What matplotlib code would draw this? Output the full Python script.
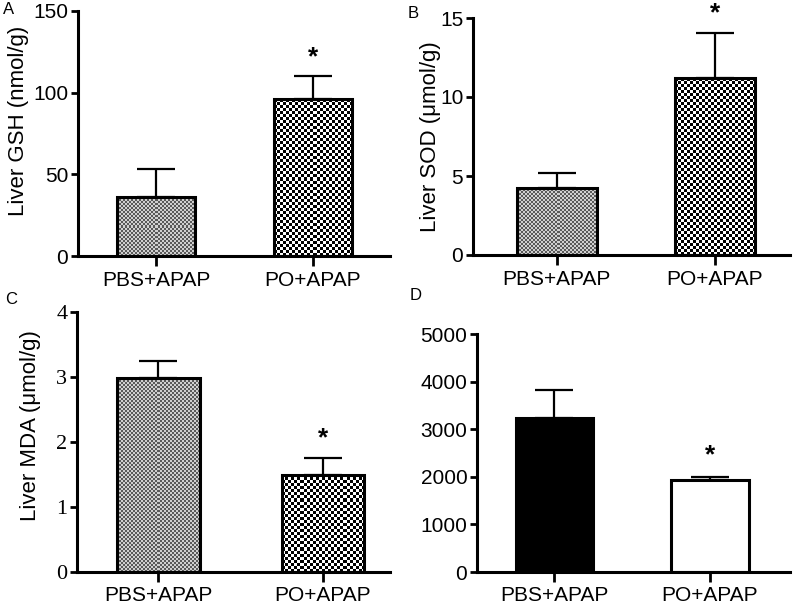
import numpy as np
import matplotlib
matplotlib.use("Agg")
import matplotlib.pyplot as plt
from matplotlib.colors import ListedColormap

groups = ["PBS+APAP", "PO+APAP"]

gsh_mean = [36, 96]
gsh_err = [17, 14]
sod_mean = [4.25, 11.2]
sod_err = [0.95, 2.85]
mda_mean = [2.98, 1.50]
mda_err = [0.27, 0.26]
d_mean = [3235, 1935]
d_err = [590, 60]

W, H = 800, 607
fig = plt.figure(figsize=(W / 100, H / 100), dpi=100)
sans = "Liberation Sans"
serif = "Liberation Serif"


def add_ax(left, right, top, bottom):
    return fig.add_axes([left / W, (H - bottom) / H, (right - left) / W, (bottom - top) / H])


def checker(ax, x, w, h, cell, c1, c2):
    p0 = ax.transData.transform((x - w / 2, 0))
    p1 = ax.transData.transform((x + w / 2, h))
    nx = max(1, int(round(abs(p1[0] - p0[0]) / cell)))
    ny = max(1, int(round(abs(p1[1] - p0[1]) / cell)))
    ii, jj = np.meshgrid(np.arange(nx), np.arange(ny))
    arr = (ii + jj) % 2
    ax.imshow(arr, cmap=ListedColormap([c1, c2]), extent=(x - w / 2, x + w / 2, 0, h),
              aspect="auto", interpolation="nearest", zorder=1)


def panel(ax, means, errs, xlim, ylim, yticks, width, ylabel, label_xy, tickfont, fills,
          star_off=14, xpad=3):
    ax.set_xlim(*xlim)
    ax.set_ylim(*ylim)
    x = np.arange(len(means))
    for i, (m, f) in enumerate(zip(means, fills)):
        if f == "fine":
            checker(ax, x[i], width, m, 2.0, "#5a5a5a", "#d0d0d0")
            fc = "none"
        elif f == "coarse":
            checker(ax, x[i], width, m, 3.0, "#000000", "#ffffff")
            fc = "none"
        else:
            fc = f
        ax.bar(x[i], m, width=width, facecolor=fc, edgecolor="black", linewidth=2.2, zorder=2)
    ax.errorbar(x, means, yerr=[[0] * len(errs), errs], fmt="none", ecolor="black",
                elinewidth=1.6, capsize=14, capthick=1.6, zorder=1.5)
    for i in range(len(means)):
        if i == 1:
            ax.annotate("*", (x[i], means[i] + errs[i]), xytext=(0, star_off),
                        textcoords="offset points", ha="center", va="center",
                        fontsize=19, fontfamily=sans, fontweight="bold")
    ax.set_xlim(*xlim)
    ax.set_ylim(*ylim)
    ax.set_yticks(yticks)
    ax.set_xticks(x)
    ax.set_xticklabels(groups, fontsize=15, fontfamily=sans)
    for lab in ax.get_yticklabels():
        lab.set_fontfamily(tickfont)
        lab.set_fontsize(15 if tickfont == sans else 16)
    for s in ["top", "right"]:
        ax.spines[s].set_visible(False)
    for s in ["left", "bottom"]:
        ax.spines[s].set_linewidth(2.2)
    ax.tick_params(axis="y", length=5, width=2, pad=2)
    ax.tick_params(axis="x", length=7, width=2, pad=xpad)
    if ylabel:
        ax.set_ylabel(ylabel, fontsize=16, fontfamily=sans)
        ax.yaxis.set_label_coords(*label_xy)


axA = add_ax(78, 390, 11, 256)
panel(axA, gsh_mean, gsh_err, (-0.497, 1.49), (0, 150), [0, 50, 100, 150], 0.50,
      "Liver GSH (nmol/g)", (-0.157, 0.55), sans, ["fine", "coarse"], xpad=3.5)

axB = add_ax(473, 790, 18, 255)
panel(axB, sod_mean, sod_err, (-0.527, 1.473), (0, 15), [0, 5, 10, 15], 0.505,
      "Liver SOD (\u03bcmol/g)", (-0.101, 0.5), sans, ["fine", "coarse"], xpad=3.5)

axC = add_ax(77, 390, 312, 572)
panel(axC, mda_mean, mda_err, (-0.495, 1.407), (0, 4), [0, 1, 2, 3, 4], 0.50,
      "Liver MDA (\u03bcmol/g)", (-0.115, 0.565), serif, ["fine", "coarse"], xpad=3)

axD = add_ax(477, 790, 334, 572)
panel(axD, d_mean, d_err, (-0.498, 1.514), (0, 5000), [0, 1000, 2000, 3000, 4000, 5000], 0.50,
      None, None, sans, ["black", "white"], star_off=16, xpad=3)

for t, (px, py) in zip("ABCD", [(3, 10), (408, 13), (5, 300), (410, 296)]):
    fig.text(px / W, 1 - py / H, t, fontsize=12, fontfamily=sans, ha="left", va="center")

fig.savefig("out.png", dpi=100)
